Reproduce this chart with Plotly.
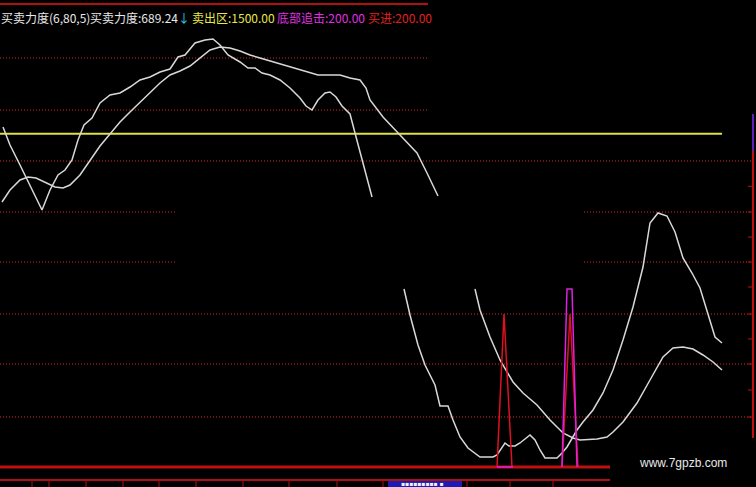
import plotly.graph_objects as go

# ---------------- data (bar position, indicator value) ----------------
TOP_X_FAST = [3, 10, 20, 30, 42, 50, 58, 65, 72, 78, 84, 92, 100, 110, 120, 130, 140, 150, 160, 170,
              178, 185, 195, 205, 213, 220, 228, 240, 248, 255, 262, 270, 280, 290, 300, 306, 312,
              318, 325, 330, 336, 342, 350, 355, 362, 367, 372]
TOP_FAST = [1530, 1449, 1359, 1269, 1156.5, 1246.5, 1314, 1336.5, 1381.5, 1471.5, 1539, 1570.5, 1638,
            1674, 1683, 1710, 1741.5, 1755, 1777.5, 1791, 1845, 1854, 1908, 1921.5, 1926, 1899, 1854,
            1822.5, 1795.5, 1795.5, 1773, 1764, 1741.5, 1705.5, 1660.5, 1624.5, 1606.5, 1651.5, 1683,
            1687.5, 1665, 1624.5, 1588.5, 1503, 1381.5, 1291.5, 1215]

TOP_X_SLOW = [2, 10, 20, 28, 36, 45, 55, 63, 70, 80, 90, 100, 110, 120, 130, 140, 150, 160, 170, 180,
              190, 200, 210, 220, 230, 240, 250, 260, 270, 280, 290, 300, 310, 318, 340, 350, 360, 366,
              370, 383, 400, 417, 427, 438]
TOP_SLOW = [1192.5, 1246.5, 1291.5, 1305, 1300.5, 1282.5, 1260, 1255.5, 1269, 1314, 1381.5, 1444.5,
            1498.5, 1552.5, 1597.5, 1642.5, 1683, 1728, 1764, 1782, 1804.5, 1840.5, 1876.5, 1890,
            1885.5, 1872, 1854, 1840.5, 1827, 1813.5, 1800, 1786.5, 1773, 1764, 1764, 1750.5, 1741.5,
            1705.5, 1651.5, 1575, 1494, 1413, 1323, 1219.5]

LOW_X_FAST = [404, 410, 418, 425, 435, 440, 448, 453, 460, 468, 480, 493, 497, 505, 509, 515, 520, 530,
              535, 540, 545, 557, 562, 567, 577, 583, 593, 603, 613, 623, 633, 643, 650, 658, 667, 675,
              683, 692, 700, 708, 715, 722]
LOW_FAST = [801, 684, 549, 459, 369, 274.5, 274.5, 211.5, 135, 85.5, 45, 45, 54, 108, 94.5, 94.5, 108,
            144, 121.5, 76.5, 40.5, 40.5, 63, 90, 166.5, 202.5, 256.5, 333, 436.5, 571.5, 720, 900,
            1098, 1143, 1129.5, 1057.5, 940.5, 873, 805.5, 684, 585, 558]

LOW_X_SLOW = [475, 480, 490, 500, 513, 523, 537, 550, 563, 573, 580, 597, 607, 613, 623, 637, 650, 663,
              673, 683, 693, 703, 713, 722]
LOW_SLOW = [801, 706.5, 585, 481.5, 382.5, 333, 279, 211.5, 153, 130.5, 121.5, 126, 135, 157.5, 202.5,
            288, 391.5, 495, 535.5, 540, 531, 504, 472.5, 436.5]

BUY_X = [497, 504, 512, None, 562, 570, 578]
BUY = [0, 688.5, 0, None, 0, 688.5, 0]

CHASE_X = [497, 513, None, 562, 567, 572, 577]
CHASE = [0, 0, None, 0, 801, 801, 0]

SELL_ZONE = 1500
SELL_X = [0, 722]

GRID_LEVELS = [1840.5, 1606.5, 1377, 1147.5, 922.5, 688.5, 463.5, 225]
GRID_SPANS = [[(0, 428)], [(0, 428)], [(0, 752)], [(0, 175), (584, 752)], [(0, 175), (584, 752)],
              [(0, 752)], [(0, 752)], [(0, 752)]]

TOP_RULE = 2083.5
BOTTOM_AXIS = -58.5
AXIS_FLOOR = -90
X_TICKS = [32, 49, 86, 123, 159, 196, 243, 289, 337, 383, 467, 510, 553]
RIGHT_TICKS = [1263, 1147.5, 1035, 922.5, 810, 688.5, 576, 463.5, 346.5, 225]

LEGEND = [("买卖力度(6,80,5)", "#e8e8e8", 0), ("买卖力度:689.24", "#e8e8e8", 89),
          ("↓", "#30d0f0", 177), ("卖出区:1500.00", "#e8e84a", 191),
          ("底部追击:200.00", "#e030e0", 276), ("买进:200.00", "#e02020", 367)]

# ---------------- figure ----------------
fig = go.Figure()

def seg(xs, ys, color, width, dash=None):
    fig.add_trace(go.Scatter(x=xs, y=ys, mode="lines", hoverinfo="skip", showlegend=False,
                             line=dict(color=color, width=width, dash=dash)))

# dotted grid
gx, gy = [], []
for lvl, spans in zip(GRID_LEVELS, GRID_SPANS):
    for a, b in spans:
        gx += [a, b, None]
        gy += [lvl, lvl, None]
seg(gx, gy, "rgb(215,40,40)", 1, "1px,2px")

# frame rules
seg([0, 428], [TOP_RULE, TOP_RULE], "#b01010", 2)
seg([0, 610], [0, 0], "#c01010", 3)
seg([0, 610], [BOTTOM_AXIS, BOTTOM_AXIS], "#b01010", 2)
tx, ty = [], []
for t in X_TICKS:
    tx += [t, t, None]
    ty += [BOTTOM_AXIS, AXIS_FLOOR, None]
seg(tx, ty, "#b01010", 1)

# right axis
seg([753, 753], [1588.5, 130.5], "#c01010", 2)
seg([753, 753], [1588.5, 1422], "#6020c0", 2)
rx, ry = [], []
for t in RIGHT_TICKS:
    rx += [748, 753, None]
    ry += [t, t, None]
seg(rx, ry, "#c01010", 1)

# sell zone
seg(SELL_X, [SELL_ZONE, SELL_ZONE], "#e0e040", 2)

# white indicator lines
seg(TOP_X_SLOW, TOP_SLOW, "#d8d8d8", 1.5)
seg(TOP_X_FAST, TOP_FAST, "#d8d8d8", 1.5)
seg(LOW_X_SLOW, LOW_SLOW, "#d8d8d8", 1.5)
seg(LOW_X_FAST, LOW_FAST, "#d8d8d8", 1.5)

# signals
seg(BUY_X, BUY, "#e01020", 1.5)
seg(CHASE_X, CHASE, "#e020e0", 1.5)

# blue status box at bottom
fig.add_shape(type="rect", x0=388, x1=462, y0=AXIS_FLOOR, y1=BOTTOM_AXIS - 4,
              fillcolor="#1c1cb4", line_width=0, layer="above")

annotations = []
for text, color, x in LEGEND:
    annotations.append(dict(x=x, y=2025, xref="x", yref="y", text=text, showarrow=False,
                            xanchor="left", yanchor="middle", borderpad=0,
                            font=dict(family="Noto Sans CJK SC", size=12, color=color)))
annotations.append(dict(x=637, y=18, xref="x", yref="y", text="www.7gpzb.com", showarrow=False,
                        xanchor="left", yanchor="middle",
                        font=dict(family="Liberation Sans", size=12, color="#e8e8e8")))
annotations.append(dict(x=422, y=-74, xref="x", yref="y", text="▪▪▪▪▪▪▪▪▪ ▪", showarrow=False,
                        xanchor="center", yanchor="middle", borderpad=0,
                        font=dict(family="DejaVu Sans", size=6, color="#f0f0f0")))

fig.update_layout(
    width=756, height=487,
    margin=dict(l=0, r=0, t=0, b=0),
    paper_bgcolor="black", plot_bgcolor="black",
    xaxis=dict(range=[0, 756], visible=False, fixedrange=True),
    yaxis=dict(range=[AXIS_FLOOR, 2101.5], visible=False, fixedrange=True),
    annotations=annotations,
    showlegend=False,
)

fig.write_html("out.html", config={"displayModeBar": False},
               post_script="document.body.style.margin='0';document.body.style.background='black';")
